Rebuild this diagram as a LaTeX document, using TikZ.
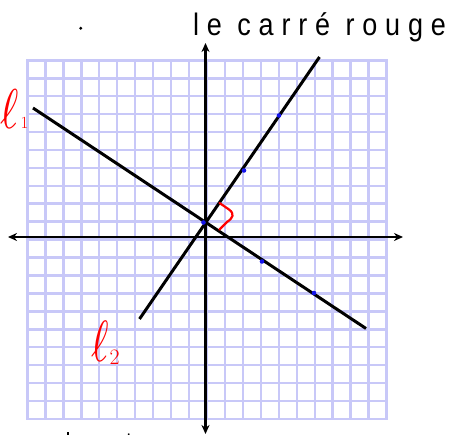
\documentclass[tikz,border=0pt]{standalone}
\usepackage{fontspec}
\newfontfamily\hand[LetterSpace=29]{Liberation Sans}
\usetikzlibrary{arrows.meta}
\definecolor{gridblue}{RGB}{200,200,248}
\definecolor{penred}{RGB}{255,0,0}
\definecolor{penblue}{RGB}{20,20,235}
\tikzset{
  gridline/.style={gridblue,line width=2.6pt,line cap=rect},
  axis/.style={black,line width=2.8pt,{Stealth[length=9pt,width=8pt]}-{Stealth[length=9pt,width=8pt]}},
  dline/.style={black,line width=3pt},
  bdot/.style={penblue,fill=penblue},
  redmark/.style={penred,line width=2.2pt,line cap=round,line join=round},
  lbl/.style={penred,inner sep=0pt,anchor=base west}
}
\begin{document}
\begin{tikzpicture}[x=1pt,y=-1pt]
\useasboundingbox (0,0) rectangle (456,435);
% grid 20x20
\foreach \k in {0,...,20}{
  \draw[gridline] ({27.3+17.97*\k},60.3) -- ({27.3+17.97*\k},418.9);
  \draw[gridline] (27.3,{60.3+17.93*\k}) -- (386.7,{60.3+17.93*\k});
}
% axes
\coordinate (xl) at (8,237);
\coordinate (xr) at (403,237);
\coordinate (yt) at (205.5,43);
\coordinate (yb) at (205.5,434);
\draw[axis] (xl) -- (xr);
\draw[axis] (yt) -- (yb);
% lines
\coordinate (l1a) at (33,108);
\coordinate (l1b) at (366,328.5);
\coordinate (l2a) at (139.5,319);
\coordinate (l2b) at (319.5,57);
\draw[dline] (l1a) -- (l1b);
\draw[dline] (l2a) -- (l2b);
% blue points
\foreach \p in {(279,115.5),(244,170.5),(203.5,222.5),(262,261.5),(314,293)}{
  \fill[bdot] \p circle (2.3pt);
}
% right angle mark
\draw[redmark] (219.5,203) -- (229,209.5) .. controls (235,214) and (233,218) .. (227,222) -- (219.5,229.5);
% labels
\node[lbl] (l1) at (0,129) {\scalebox{4.4}[5.6]{$\ell$}\kern2pt{\fontsize{17}{17}\selectfont 1}};
\node[lbl] (l2) at (91,362) {\scalebox{4.2}[5.8]{$\ell$}\kern1pt\raisebox{-3pt}{\fontsize{22}{22}\selectfont 2}};
\node[inner sep=0pt,anchor=base west] (title) at (193,36) {\scalebox{1}[1.15]{\fontsize{27}{27}\hand le carré rouge}};
% stray marks
\fill[black] (80.7,28.3) circle (1.6pt);
\draw[black,line width=1.8pt] (68,432.5) -- (68,436);
\draw[black,line width=1.5pt] (128.5,433.5) -- (129,436);
\end{tikzpicture}
\end{document}
